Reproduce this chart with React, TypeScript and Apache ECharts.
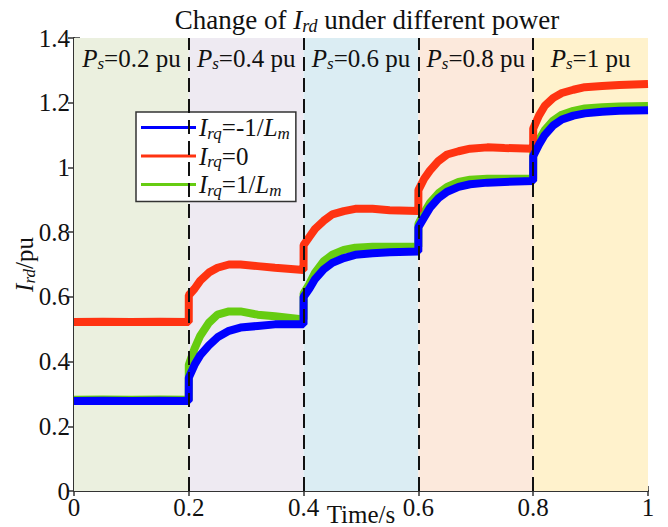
import React, { useEffect, useRef } from 'react';
import * as echarts from 'echarts';

const FONT = 'Liberation Serif';

// Time samples (s)
const times = [
  0, 0.05, 0.1, 0.15, 0.1999,
  0.2, 0.21, 0.22, 0.235, 0.25, 0.27, 0.29, 0.32, 0.35, 0.3999,
  0.4, 0.41, 0.42, 0.435, 0.45, 0.47, 0.49, 0.52, 0.55, 0.5999,
  0.6, 0.61, 0.62, 0.635, 0.65, 0.67, 0.69, 0.72, 0.75, 0.7999,
  0.8, 0.81, 0.82, 0.835, 0.85, 0.87, 0.89, 0.92, 0.95, 1.0,
];

// I_rq = -1/Lm (blue)
const blueVals = [
  0.278, 0.279, 0.278, 0.279, 0.278,
  0.35, 0.39, 0.42, 0.45, 0.475, 0.495, 0.505, 0.51, 0.515, 0.515,
  0.6, 0.625, 0.655, 0.685, 0.705, 0.72, 0.73, 0.735, 0.738, 0.74,
  0.815, 0.845, 0.875, 0.905, 0.925, 0.94, 0.948, 0.953, 0.955, 0.958,
  1.035, 1.07, 1.1, 1.13, 1.148, 1.16, 1.167, 1.172, 1.175, 1.177,
];

// I_rq = 0 (red)
const redVals = [
  0.522, 0.523, 0.522, 0.523, 0.522,
  0.605, 0.625, 0.65, 0.675, 0.69, 0.7, 0.7, 0.695, 0.69, 0.683,
  0.76, 0.785, 0.81, 0.835, 0.855, 0.865, 0.872, 0.872, 0.868, 0.865,
  0.93, 0.965, 0.99, 1.02, 1.04, 1.05, 1.058, 1.062, 1.06, 1.058,
  1.12, 1.16, 1.19, 1.215, 1.23, 1.24, 1.248, 1.252, 1.255, 1.258,
];

// I_rq = 1/Lm (green)
const greenVals = [
  0.282, 0.283, 0.282, 0.283, 0.282,
  0.39, 0.44, 0.48, 0.52, 0.545, 0.555, 0.555, 0.545, 0.54, 0.53,
  0.61, 0.64, 0.675, 0.71, 0.73, 0.745, 0.752, 0.755, 0.755, 0.755,
  0.825, 0.86, 0.89, 0.92, 0.94, 0.955, 0.962, 0.965, 0.965, 0.965,
  1.045, 1.085, 1.115, 1.145, 1.163, 1.175, 1.182, 1.186, 1.188, 1.19,
];

const boundaries = [0, 0.2, 0.4, 0.6, 0.8, 1];
const powerLabels = ['0.2', '0.4', '0.6', '0.8', '1'];
const bandColors = ['#ebf0df', '#eeeaf2', '#dbedf3', '#fce9dc', '#fff2cc'];
const switchTimes = [0.2, 0.4, 0.6, 0.8];

function makeRich(fs: number, subFs: number, subPad: number) {
  return {
    i: { fontFamily: FONT, fontSize: fs, fontStyle: 'italic', fontWeight: 'normal', color: '#111' },
    n: { fontFamily: FONT, fontSize: fs, fontWeight: 'normal', color: '#111' },
    sub: {
      fontFamily: FONT,
      fontSize: subFs,
      fontStyle: 'italic',
      fontWeight: 'normal',
      color: '#111',
      verticalAlign: 'bottom',
      padding: [subPad, 0, 0, 0],
    },
  };
}

const richBase = makeRich(25, 17, 11);
const richTitle = makeRich(27, 18, 12);

const legendText: Record<string, string> = {
  blue: '{i|I}{sub|rq}{n|=-1/}{i|L}{sub|m}',
  red: '{i|I}{sub|rq}{n|=0}',
  green: '{i|I}{sub|rq}{n|=1/}{i|L}{sub|m}',
};

function pairs(vals: number[]) {
  return times.map((t, k) => [t, vals[k]]);
}

const fmtTick = (v: number) => `{n|${Math.round(v * 10) / 10}}`;

export default function App() {
  const ref = useRef<HTMLDivElement>(null);

  useEffect(() => {
    if (!ref.current) return;
    const chart = echarts.init(ref.current, null, { renderer: 'svg' });

    const areaData = powerLabels.map((p, k) => [
      {
        xAxis: boundaries[k],
        itemStyle: { color: bandColors[k] },
        label: {
          show: true,
          position: 'insideTop',
          distance: 6,
          formatter: `{i|P}{sub|s}{n|=${p} pu}`,
          rich: richBase,
        },
      },
      { xAxis: boundaries[k + 1] },
    ]);

    const option: any = {
      animation: false,
      backgroundColor: '#fff',
      textStyle: { fontFamily: FONT },
      title: {
        text: '{n|Change of }{i|I}{sub|rd}{n| under different power}',
        left: 362,
        top: 0,
        textAlign: 'center',
        textStyle: { rich: richTitle, fontFamily: FONT, fontWeight: 'normal' },
      },
      grid: {
        left: 74,
        right: 20,
        top: 38,
        bottom: 36,
        containLabel: false,
        outerBoundsMode: 'none',
      },
      legend: {
        left: 136,
        top: 112,
        orient: 'vertical',
        backgroundColor: '#fff',
        borderColor: '#333',
        borderWidth: 1.5,
        borderRadius: 0,
        padding: [3, 6, 3, 5],
        itemWidth: 55,
        itemHeight: 3,
        itemGap: 2,
        icon: 'rect',
        data: ['blue', 'red', 'green'],
        formatter: (name: string) => legendText[name],
        textStyle: { rich: richBase, fontFamily: FONT, padding: [0, 0, 0, -2] },
      },
      xAxis: [
        {
          type: 'value',
          min: 0,
          max: 1,
          interval: 0.2,
          name: '{n|Time/s}',
          nameLocation: 'middle',
          nameGap: 11,
          nameMoveOverlap: false,
          nameTextStyle: { rich: richBase, fontFamily: FONT },
          axisLine: { show: true, lineStyle: { color: '#333', width: 2 } },
          axisTick: { show: true, inside: true, length: 5, lineStyle: { color: '#333', width: 1.5 } },
          axisLabel: { margin: 4, formatter: fmtTick, rich: richBase },
          splitLine: { show: false },
        },
        {
          type: 'value',
          position: 'top',
          min: 0,
          max: 1,
          interval: 0.2,
          axisLine: { show: true, lineStyle: { color: '#333', width: 2 } },
          axisTick: { show: true, inside: true, length: 5, lineStyle: { color: '#333', width: 1.5 } },
          axisLabel: { show: false },
          splitLine: { show: false },
        },
      ],
      yAxis: [
        {
          type: 'value',
          min: 0,
          max: 1.4,
          interval: 0.2,
          name: '{i|I}{sub|rd}{n|/pu}',
          nameLocation: 'middle',
          nameRotate: 90,
          nameGap: 36,
          nameMoveOverlap: false,
          nameTextStyle: { rich: richBase, fontFamily: FONT },
          axisLine: { show: true, lineStyle: { color: '#333', width: 2 } },
          axisTick: { show: true, inside: true, length: 6, lineStyle: { color: '#333', width: 1.5 } },
          axisLabel: { margin: 4, formatter: fmtTick, rich: richBase },
          splitLine: { show: false },
        },
        {
          type: 'value',
          position: 'right',
          min: 0,
          max: 1.4,
          interval: 0.2,
          axisLine: { show: true, lineStyle: { color: '#333', width: 2 } },
          axisTick: { show: true, inside: true, length: 6, lineStyle: { color: '#333', width: 1.5 } },
          axisLabel: { show: false },
          splitLine: { show: false },
        },
      ],
      series: [
        {
          name: 'bands',
          type: 'line',
          data: [],
          z: 1,
          markArea: { silent: true, data: areaData },
          markLine: {
            silent: true,
            symbol: ['none', 'none'],
            label: { show: false },
            lineStyle: { color: '#111', width: 2, type: [14, 7] },
            data: switchTimes.map((t) => ({ xAxis: t })),
          },
        },
        {
          name: 'blue',
          type: 'line',
          data: pairs(blueVals),
          showSymbol: false,
          color: '#0000ff',
          lineStyle: { color: '#0000ff', width: 8 },
          z: 4,
        },
        {
          name: 'red',
          type: 'line',
          data: pairs(redVals),
          showSymbol: false,
          color: '#ff3311',
          lineStyle: { color: '#ff3311', width: 8 },
          z: 3,
        },
        {
          name: 'green',
          type: 'line',
          data: pairs(greenVals),
          showSymbol: false,
          color: '#66cc11',
          lineStyle: { color: '#66cc11', width: 8 },
          z: 2,
        },
      ],
    };

    chart.setOption(option);
    return () => chart.dispose();
  }, []);

  return <div ref={ref} style={{ width: 668, height: 527, position: 'absolute', left: 0, top: 0 }} />;
}
